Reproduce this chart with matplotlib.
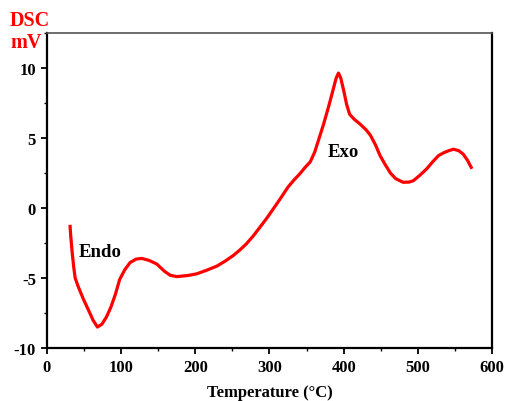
import matplotlib
matplotlib.use('Agg')
import matplotlib.pyplot as plt
from matplotlib.ticker import MultipleLocator

# DSC curve
temperature = [31, 32, 34, 36, 38, 42, 49, 56, 62, 68, 74, 80, 86, 92, 98,
               105, 112, 120, 128, 138, 148, 158, 166, 175, 190, 202, 215,
               229, 240, 251, 260, 269, 278, 287, 296, 305, 315, 325, 333,
               341, 348, 355, 361, 367, 373, 380, 386, 390, 393, 396, 400,
               404, 408, 414, 422, 430, 436, 443, 449, 456, 463, 470, 480,
               488, 494, 503, 512, 520, 528, 535, 542, 548, 555, 561, 567,
               573]
dsc = [-1.2, -2.0, -3.2, -4.2, -5.0, -5.6, -6.5, -7.3, -8.0, -8.5, -8.3,
       -7.8, -7.1, -6.2, -5.1, -4.4, -3.9, -3.65, -3.6, -3.75, -4.0, -4.5,
       -4.8, -4.9, -4.82, -4.7, -4.45, -4.15, -3.8, -3.4, -3.0, -2.55, -2.0,
       -1.38, -0.75, -0.07, 0.7, 1.5, 2.0, 2.45, 2.9, 3.3, 4.0, 5.0, 6.0,
       7.3, 8.5, 9.3, 9.64, 9.3, 8.4, 7.4, 6.7, 6.35, 6.0, 5.6, 5.2, 4.5,
       3.75, 3.1, 2.5, 2.1, 1.84, 1.85, 1.95, 2.35, 2.8, 3.3, 3.75, 3.95,
       4.1, 4.2, 4.1, 3.86, 3.4, 2.8]

xticks = [0, 100, 200, 300, 400, 500, 600]
yticks = [-10, -5, 0, 5, 10]

plt.rcParams['font.family'] = ['Liberation Serif', 'DejaVu Serif']
plt.rcParams['font.weight'] = 'bold'
plt.rcParams['axes.unicode_minus'] = False

fig = plt.figure(figsize=(5.08, 4.02), dpi=100)
ax = fig.add_axes([0.0925, 0.1318, 0.876, 0.7836])

ax.plot(temperature, dsc, color='#ff0000', linewidth=2.3,
        solid_capstyle='butt')

ax.set_xlim(0, 600)
ax.set_ylim(-10, 12.5)
ax.set_xticks(xticks)
ax.set_yticks(yticks)
ax.xaxis.set_minor_locator(MultipleLocator(50))
ax.yaxis.set_minor_locator(MultipleLocator(2.5))
ax.tick_params(axis='both', which='major', direction='out', length=4,
               width=1.3, labelsize=12, pad=4)
ax.tick_params(axis='both', which='minor', direction='out', length=2.5,
               width=1.0)
for lab in ax.get_xticklabels() + ax.get_yticklabels():
    lab.set_fontweight('bold')

for side in ['left', 'bottom', 'right']:
    ax.spines[side].set_linewidth(1.6)
ax.spines['top'].set_linewidth(1.2)
ax.spines['top'].set_color('#555555')

ax.set_xlabel('Temperature (°C)', fontsize=12, fontweight='bold',
              labelpad=6.5)

ax.text(43, -3.4, 'Endo', fontsize=13.5, fontweight='bold', va='baseline')
ax.text(379, 3.74, 'Exo', fontsize=13.5, fontweight='bold', va='baseline')

fig.text(0.02, 0.948, 'DSC', color='#ff0000', fontsize=14.5,
         fontweight='bold', va='center')
fig.text(0.02, 0.894, 'mV', color='#ff0000', fontsize=14.5,
         fontweight='bold', va='center')

fig.savefig('out.png', dpi=100)
